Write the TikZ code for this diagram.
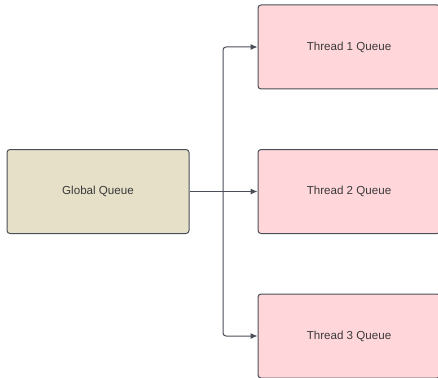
\documentclass[tikz,border=0pt]{standalone}
\usepackage{fontspec}
\setmainfont{Liberation Sans}
\usepackage{xcolor}
\usetikzlibrary{arrows.meta,positioning,calc}
\definecolor{globalfill}{HTML}{E6E0C8}
\definecolor{threadfill}{HTML}{FFD6D9}
\definecolor{edgegray}{HTML}{4A4F57}
\definecolor{textgray}{HTML}{3A3A3A}
\tikzset{
  queuebox/.style={draw=edgegray, line width=1pt, rounded corners=3pt, minimum width=182pt, minimum height=84pt, inner sep=2pt, font=\fontsize{11.6}{14}\selectfont, text=textgray},
  globalnode/.style={queuebox, fill=globalfill},
  threadnode/.style={queuebox, fill=threadfill},
  arc/.style={-{Latex[length=7pt,width=6pt]}, line width=1pt, draw=edgegray}
}
\begin{document}
\begin{tikzpicture}[x=1pt,y=-1pt]
  \useasboundingbox (0,0) rectangle (438,377);
  \clip (0,0) rectangle (438,377);

  \node[globalnode] (gq) at (98,191.5) {Global Queue};

  \node[threadnode] (t1) at (349,47) {Thread 1 Queue};
  \node[threadnode] (t2) at (349,191.5) {Thread 2 Queue};
  \node[threadnode] (t3) at (349,336) {Thread 3 Queue};

  \coordinate (split) at (223,191.5);
  \draw[line width=1pt, draw=edgegray] (gq.east) -- (split);
  \draw[arc, rounded corners=3pt] (split) |- (t1.west);
  \draw[arc] (split) -- (t2.west);
  \draw[arc, rounded corners=3pt] (split) |- (t3.west);
\end{tikzpicture}
\end{document}
